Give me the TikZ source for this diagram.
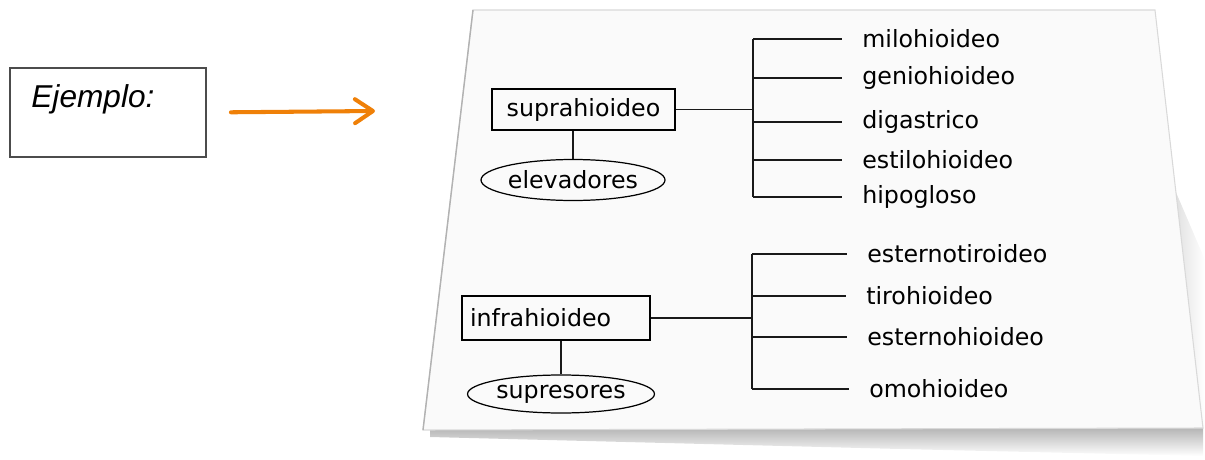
\documentclass[tikz,border=0pt]{standalone}
\usepackage{fontspec}
\setmainfont{DejaVu Sans}
\newfontfamily\arialfont{Liberation Sans}
\usetikzlibrary{arrows.meta,shapes.geometric,positioning,calc}
\definecolor{paperColor}{HTML}{FAFAFA}
\definecolor{arrowColor}{HTML}{EF8008}
\tikzset{
	muscle group/.style={draw=black, line width=1.1pt, rectangle, minimum height=0.82cm,
		inner sep=0pt, font=\fontsize{13.5}{16}\selectfont},
	muscle action/.style={draw=black, line width=0.7pt, ellipse, inner sep=0pt,
		font=\fontsize{13.5}{16}\selectfont},
	muscle/.style={inner sep=0pt, anchor=west, font=\fontsize{13.5}{16}\selectfont},
	branch/.style={draw=black!90, line width=0.85pt},
	orange arrow/.style={draw=arrowColor, line width=2.3pt, line cap=round,
		-{Straight Barb[length=3.6mm, width=4.8mm, round]}}
}
\begin{document}
\begin{tikzpicture}[x=0.02cm, y=-0.02cm]
	\useasboundingbox (0,0) rectangle (1205,460);
	% sheet of paper with its shadow
	\shade[top color=black!30, bottom color=white] (430,430) -- (1203,427) -- (1203,456) -- (900,449) -- (430,437) -- cycle;
	\shade[left color=black!12, right color=white] (1175,190) -- (1203,428) -- (1205,428) -- (1205,260) -- cycle;
	\filldraw[fill=paperColor, draw=black!15, line width=0.6pt] (473,10) -- (1155,10) -- (1203,428) -- (423,430) -- cycle;
	\draw[black!30, line width=0.8pt] (473,10) -- (423,430);

	\node[draw=black!70, line width=1.1pt, minimum width=3.92cm, minimum height=1.78cm,
		label={[anchor=north west, inner sep=0pt, xshift=0.44cm, yshift=-0.34cm]north west:{\arialfont\itshape\fontsize{18}{20}\selectfont Ejemplo:}}]
		(ejemplo) at (108,112.5) {};
	\coordinate (apunta) at (375,111);
	\draw[orange arrow, shorten <=0.48cm] (ejemplo.east) -- (apunta);

	% suprahioideos
	\node[muscle group, minimum width=3.66cm] (supra) at (583.5,109.5) {suprahioideo};
	\node[muscle action, minimum width=3.04cm, minimum height=0.82cm] (elev) at (573,180) {elevadores};
	\draw[branch] (elev.north) -- (elev.north |- supra.south);
	\coordinate (sbus) at (753,109.5);
	\node[muscle] (milo) at (862,39) {milohioideo};
	\node[muscle] (genio) at (862,78) {geniohioideo};
	\node[muscle] (diga) at (862,122) {digastrico};
	\node[muscle] (estilo) at (862,160) {estilohioideo};
	\node[muscle] (hipo) at (862,197) {hipogloso};
	\draw[branch] (supra.east) -- (sbus);
	\draw[branch] (milo.west -| sbus) -- (hipo.west -| sbus);
	\foreach \m in {milo,genio,diga,estilo,hipo}
		\draw[branch, shorten >=0.4cm] (\m.west -| sbus) -- (\m.west);

	% infrahioideos
	\node[muscle group, minimum width=3.76cm, minimum height=0.88cm, inner xsep=0.16cm,
		text width=3.44cm, align=left] (infra) at (556,318) {infrahioideo};
	\node[muscle action, minimum width=3.74cm, minimum height=0.76cm] (supre) at (561,394) {supresores};
	\draw[branch] (supre.north) -- (supre.north |- infra.south);
	\coordinate (ibus) at (752,318);
	\node[muscle] (esttiro) at (867,254) {esternotiroideo};
	\node[muscle] (tiro) at (866,296) {tirohioideo};
	\node[muscle] (esthio) at (867,337) {esternohioideo};
	\node[muscle] (omo) at (869,389) {omohioideo};
	\draw[branch] (infra.east) -- (ibus);
	\draw[branch] (esttiro.west -| ibus) -- (omo.west -| ibus);
	\foreach \m in {esttiro,tiro,esthio,omo}
		\draw[branch, shorten >=0.4cm] (\m.west -| ibus) -- (\m.west);
\end{tikzpicture}
\end{document}
